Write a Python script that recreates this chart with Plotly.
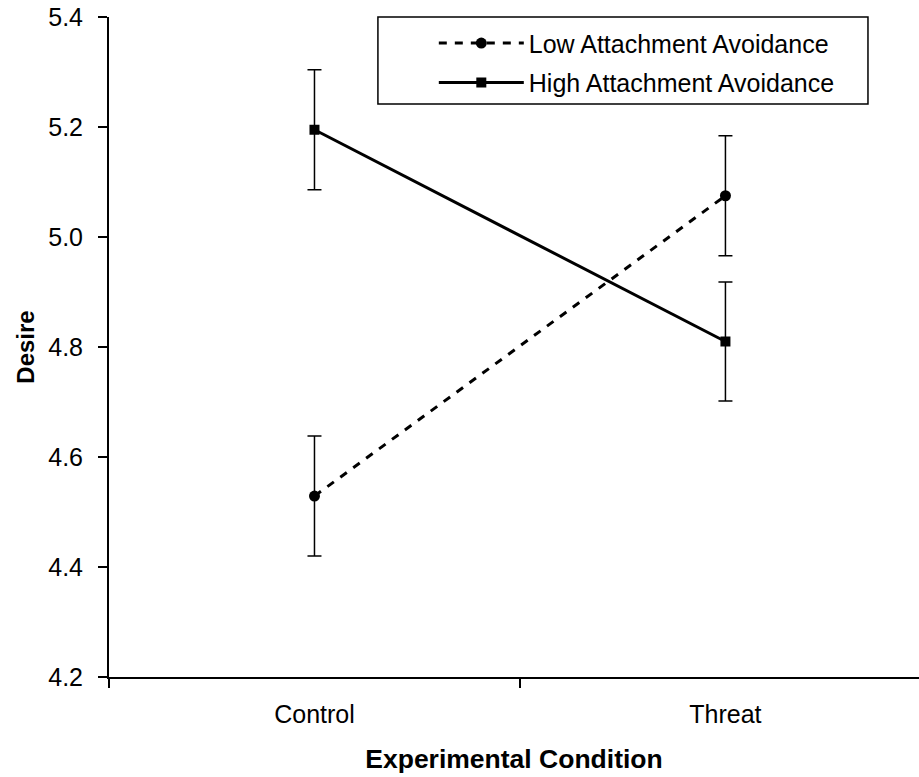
import plotly.graph_objects as go

categories = ["Control", "Threat"]
low_avoid = [4.529, 5.075]
low_err = [0.109, 0.109]
high_avoid = [5.195, 4.810]
high_err = [0.109, 0.108]
y_ticks = [4.2, 4.4, 4.6, 4.8, 5.0, 5.2, 5.4]
y_ticklabels = ["4.2", "4.4", "4.6", "4.8", "5.0", "5.2", "5.4"]

FONT = "Liberation Sans, Arial, sans-serif"

fig = go.Figure()
fig.add_trace(go.Scatter(
    x=categories, y=low_avoid, name="Low Attachment Avoidance",
    mode="lines+markers", legendgroup="a",
    line=dict(color="black", width=3, dash="8px,8px"),
    marker=dict(symbol="circle", size=11, color="black"),
    error_y=dict(type="data", array=low_err, visible=True, color="black", thickness=1.5, width=7),
))
fig.add_trace(go.Scatter(
    x=categories, y=high_avoid, name="High Attachment Avoidance",
    mode="lines+markers", legendgroup="b",
    line=dict(color="black", width=3),
    marker=dict(symbol="square", size=10, color="black"),
    error_y=dict(type="data", array=high_err, visible=True, color="black", thickness=1.5, width=7),
))

fig.update_layout(
    width=919, height=777,
    margin=dict(l=109, r=0, t=17, b=100, autoexpand=False),
    plot_bgcolor="white", paper_bgcolor="white",
    font=dict(family=FONT, size=25, color="black"),
    showlegend=True,
    legend=dict(
        x=0.401, y=0.995, xanchor="left", yanchor="top",
        bgcolor="rgba(0,0,0,0)", borderwidth=0,
        font=dict(size=25), itemwidth=85, tracegroupgap=4,
        traceorder="grouped",
    ),
    shapes=[dict(
        type="rect", xref="paper", yref="paper",
        x0=0.332, x1=0.937, y0=0.868, y1=1.0,
        line=dict(color="black", width=1.5), fillcolor="rgba(0,0,0,0)", layer="below",
    )],
    xaxis=dict(
        type="category", range=[-0.5, 1.471], automargin=False,
        showline=True, linecolor="black", linewidth=2,
        ticks="outside", tickson="boundaries", ticklen=9, tickwidth=1.5, tickcolor="black",
        showgrid=False, zeroline=False,
        ticklabelstandoff=14,
        title=dict(text="<b>Experimental Condition</b>", font=dict(size=26.5), standoff=22),
    ),
    yaxis=dict(
        range=[4.2, 5.4], tickvals=y_ticks, ticktext=y_ticklabels, automargin=False,
        showline=True, linecolor="black", linewidth=2,
        ticks="outside", ticklen=9, tickwidth=1.5, tickcolor="black",
        showgrid=False, zeroline=False,
        ticklabelstandoff=10,
        title=dict(text="<b>Desire</b>", font=dict(size=24), standoff=7),
    ),
)

fig.write_html(
    "out.html",
    config={"displayModeBar": False},
    post_script="document.body.style.margin='0';document.body.style.padding='0';",
)
